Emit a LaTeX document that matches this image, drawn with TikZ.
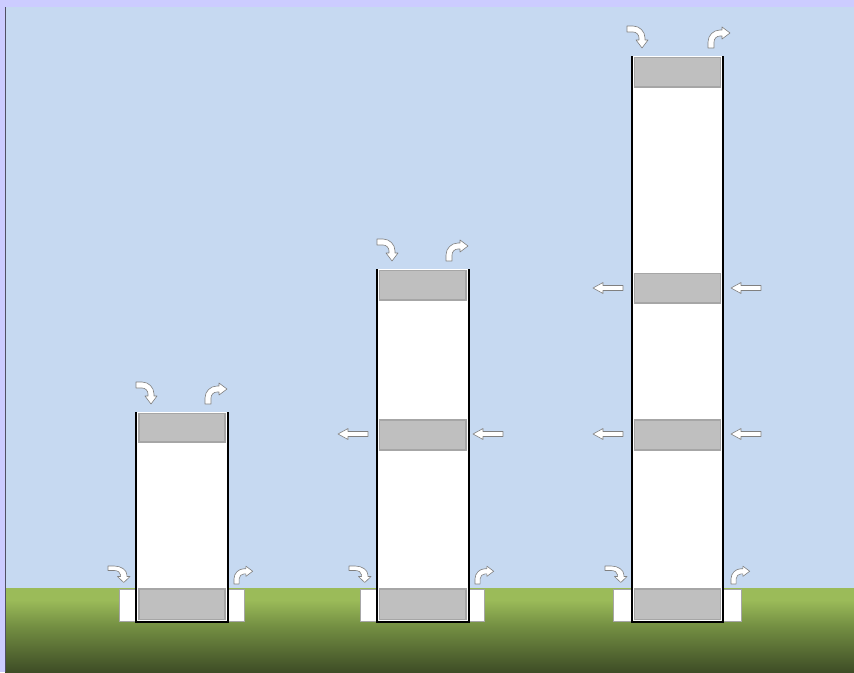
\documentclass[tikz,border=0pt]{standalone}
\usetikzlibrary{calc}
\definecolor{lavender}{RGB}{204,204,255}
\definecolor{sky}{RGB}{198,217,241}
\definecolor{edgeline}{RGB}{80,80,100}
\definecolor{gtop}{RGB}{155,187,89}
\definecolor{gmid}{RGB}{115,142,66}
\definecolor{gbot}{RGB}{62,77,38}
\definecolor{boxfill}{RGB}{191,191,191}
\definecolor{boxline}{RGB}{166,166,166}
\definecolor{arrline}{RGB}{128,128,128}
\pgfdeclareverticalshading{groundshade}{100bp}{color(0bp)=(gbot); color(25bp)=(gbot); color(52bp)=(gmid); color(68bp)=(gtop); color(100bp)=(gtop)}
\tikzset{
  arrowstyle/.style={fill=white, draw=arrline, line width=0.6pt, line join=round},
  graybox/.style={fill=boxfill, draw=boxline, line width=1.5pt},
  towerfill/.style={fill=white},
  towerline/.style={draw=black, line width=1.5pt},
  basebox/.style={fill=white, draw=boxline, line width=0.6pt},
  bentdown/.pic={\path[arrowstyle] (0,0) -- (6,0) .. controls (12.63,0) and (18,5.37) .. (18,12) -- (18,14) -- (21,14) -- (15,22) -- (9,14) -- (12,14) -- (12,12) .. controls (12,8.69) and (9.31,6) .. (6,6) -- (0,6) -- cycle;},
  bentup/.pic={\path[arrowstyle] (0,0) -- (0,-6) .. controls (0,-12.63) and (5.37,-18) .. (12,-18) -- (14,-18) -- (14,-21) -- (22,-15) -- (14,-9) -- (14,-12) -- (12,-12) .. controls (8.69,-12) and (6,-9.31) .. (6,-6) -- (6,0) -- cycle;},
  leftarrow/.pic={\path[arrowstyle] (0,0) -- (10,-5.5) -- (10,-2.5) -- (30,-2.5) -- (30,2.5) -- (10,2.5) -- (10,5.5) -- cycle;}
}
\begin{document}
\begin{tikzpicture}[x=1pt,y=-1pt]
\useasboundingbox (0,0) rectangle (854,672);
% background
\fill[lavender] (0,0) rectangle (854,672);
\fill[sky] (5,7) rectangle (854,672);
\fill[shading=groundshade] (5,588) rectangle (854,672);
\draw[edgeline, line width=1pt] (5.5,7) -- (5.5,672);
% bases
\draw[basebox] (119,589) rectangle (244,621);
\draw[basebox] (360,589) rectangle (484,621);
\draw[basebox] (613,589) rectangle (741,621);
% towers (open top, covered by the top box)
\fill[towerfill] (136,412) rectangle (228,622);
\draw[towerline] (136,412) -- (136,622) -- (228,622) -- (228,412);
\fill[towerfill] (377,269) rectangle (469,622);
\draw[towerline] (377,269) -- (377,622) -- (469,622) -- (469,269);
\fill[towerfill] (632,56) rectangle (723,622);
\draw[towerline] (632,56) -- (632,622) -- (723,622) -- (723,56);
% gray boxes tower 1
\draw[graybox] (139,413.5) rectangle (225,442);
\draw[graybox] (139,589) rectangle (225,619.5);
% tower 2
\draw[graybox] (379.5,270.5) rectangle (466,300);
\draw[graybox] (379.5,420) rectangle (466,450);
\draw[graybox] (379.5,589) rectangle (466,619.5);
% tower 3
\draw[graybox] (634.5,57.5) rectangle (720.5,87);
\draw[graybox] (634.5,273.5) rectangle (720.5,303);
\draw[graybox] (634.5,420) rectangle (720.5,450);
\draw[graybox] (634.5,589) rectangle (720.5,619.5);
% bent arrows tower 1
\pic at (136,382) {bentdown};
\pic at (205,404) {bentup};
\pic[xscale=1.05,yscale=0.75] at (108,566) {bentdown};
\pic[scale=0.85] at (234,584) {bentup};
% tower 2
\pic at (377,239) {bentdown};
\pic at (446,261) {bentup};
\pic[xscale=1.05,yscale=0.75] at (349,566) {bentdown};
\pic[scale=0.85] at (475,584) {bentup};
% tower 3
\pic at (627,26) {bentdown};
\pic at (708,48) {bentup};
\pic[xscale=1.05,yscale=0.75] at (605,566) {bentdown};
\pic[scale=0.85] at (731,584) {bentup};
% horizontal arrows
\pic at (338,434) {leftarrow};
\pic at (473,434) {leftarrow};
\pic at (593,288) {leftarrow};
\pic at (731,288) {leftarrow};
\pic at (593,434) {leftarrow};
\pic at (731,434) {leftarrow};
\end{tikzpicture}
\end{document}
